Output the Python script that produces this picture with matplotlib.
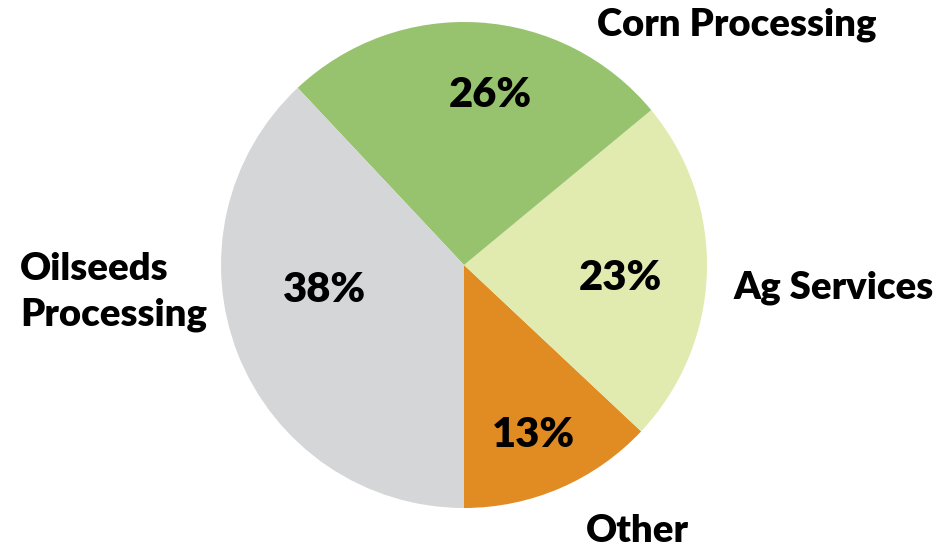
import matplotlib
matplotlib.use("Agg")
import matplotlib.pyplot as plt

categories = ["Other", "Ag Services", "Corn Processing", "Oilseeds\nProcessing"]
values = [13, 23, 26, 38]
colors = ["#E08C23", "#E1EAAF", "#97C36E", "#D5D6D8"]

# label positions in data units (pie radius = 1)
label_pos = [(0.712, -1.095, "center"), (1.523, -0.095, "center"),
             (1.123, 0.988, "center"), (-1.827, -0.111, "left")]
pct_pos = [(0.284, -0.700), (0.642, -0.053), (0.107, 0.700), (-0.572, -0.103)]

plt.rcParams['font.family'] = ['Lato', 'DejaVu Sans']

fig = plt.figure(figsize=(9.46, 5.5), dpi=100)
ax = fig.add_axes([221/946, 42/550, 486/946, 486/550])
ax.pie(values, colors=colors, startangle=-90, counterclock=True, radius=1,
       wedgeprops=dict(linewidth=0))
ax.set_xlim(-1, 1)
ax.set_ylim(-1, 1)
ax.set_aspect('equal')
ax.axis('off')

fs = 27.5
for cat, (x, y, ha) in zip(categories, label_pos):
    ax.text(x, y, cat, ha=ha, va='center', fontsize=fs, fontweight='heavy',
            clip_on=False, linespacing=1.4)
for v, (x, y) in zip(values, pct_pos):
    ax.text(x, y, f"{v}%", ha='center', va='center', fontsize=30,
            fontweight='heavy', clip_on=False)

fig.savefig("out.png", dpi=100)
